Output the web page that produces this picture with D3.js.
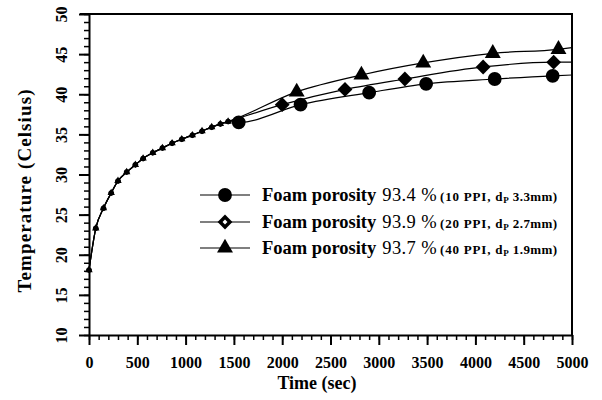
<!DOCTYPE html>
<html>
<head>
<meta charset="utf-8">
<script src="https://cdn.jsdelivr.net/npm/d3@7"></script>
<style>
  body { margin: 0; background: #fff; }
  svg, svg text { font-family: "Liberation Serif", "Times New Roman", "DejaVu Serif", serif; }
</style>
</head>
<body>
<div id="chart"></div>
<script>
// early part, all three foams overlap here
const earlyTime = [0, 70, 150, 230, 300, 390, 480, 560, 660, 760, 860, 960, 1070, 1170, 1270, 1360, 1440]
const earlyTemp = [18.1, 23.3, 25.8, 27.7, 29.2, 30.3, 31.2, 32.0, 32.7, 33.3, 33.9, 34.4, 34.9, 35.4, 35.9, 36.3, 36.6]

// later markers per foam
const circleTime = [1550, 2190, 2900, 3490, 4200, 4800]
const circleTemp = [36.5, 38.7, 40.2, 41.3, 41.9, 42.3]
const diamondTime = [2000, 2650, 3270, 4080, 4810]
const diamondTemp = [38.7, 40.6, 41.9, 43.4, 44.0]
const triangleTime = [2150, 2820, 3460, 4180, 4860]
const triangleTemp = [40.3, 42.4, 43.9, 45.1, 45.6]

// where each fitted line meets the right frame
const lineEndTime = 5000
const lineEndTemp = [42.4, 44.0, 45.8]

const xMajor = [0, 500, 1000, 1500, 2000, 2500, 3000, 3500, 4000, 4500, 5000]
const yMajor = [10, 15, 20, 25, 30, 35, 40, 45, 50]

const legendNames = ["Foam porosity", "Foam porosity", "Foam porosity"]
const legendPct = ["93.4 %", "93.9 %", "93.7 %"]
const legendPpi = ["(10 PPI, d", "(20 PPI, d", "(40 PPI, d"]
const legendDp = ["3.3mm)", "2.7mm)", "1.9mm)"]

const width = 602
const height = 400
const marginLeft = 89
const marginRight = 30
const marginTop = 14
const marginBottom = 65

const x = d3.scaleLinear().domain([0, 5000]).range([marginLeft, width - marginRight])
const y = d3.scaleLinear().domain([10, 50]).range([height - marginBottom, marginTop])

const svg = d3.select("#chart").append("svg")
  .attr("width", width)
  .attr("height", height)

// frame (top and right)
svg.append("path")
  .attr("d", `M${x(0) - 9},${y(50)}H${x(5000)}V${y(10)}`)
  .attr("fill", "none")
  .attr("stroke", "#000")
  .attr("stroke-width", 2)

// x axis
const xMinor = d3.range(0, 5001, 100)
svg.append("g")
  .attr("transform", `translate(0,${y(10)})`)
  .call(d3.axisBottom(x).tickValues(xMinor).tickSize(5).tickFormat(""))
  .call(g => g.select(".domain").remove())
  .call(g => g.selectAll("line").attr("stroke-width", 1.5))
svg.append("g")
  .attr("transform", `translate(0,${y(10)})`)
  .call(d3.axisBottom(x).tickValues(xMajor).tickSize(10).tickSizeOuter(0).tickPadding(12).tickFormat(d3.format("d")))
  .attr("font-family", null)
  .call(g => g.select(".domain").attr("stroke-width", 2))
  .call(g => g.selectAll("line").attr("stroke-width", 2))
  .call(g => g.selectAll("text")
    .attr("font-weight", "bold")
    .attr("font-size", 16)
    .attr("fill", "#000"))

// y axis
const yMinor = d3.range(10, 51, 1)
svg.append("g")
  .attr("transform", `translate(${x(0)},0)`)
  .call(d3.axisLeft(y).tickValues(yMinor).tickSize(5).tickFormat(""))
  .call(g => g.select(".domain").remove())
  .call(g => g.selectAll("line").attr("stroke-width", 1.5))
svg.append("g")
  .attr("transform", `translate(${x(0)},0)`)
  .call(d3.axisLeft(y).tickValues(yMajor).tickSize(10).tickSizeOuter(0))
  .attr("font-family", null)
  .call(g => g.select(".domain").attr("stroke-width", 2))
  .call(g => g.selectAll("line").attr("stroke-width", 2))
  .call(g => g.selectAll("text")
    .attr("x", 0).attr("y", -22).attr("dy", 0)
    .attr("transform", "rotate(-90)")
    .attr("text-anchor", "middle")
    .attr("font-weight", "bold")
    .attr("font-size", 16)
    .attr("fill", "#000"))

// axis titles
svg.append("text")
  .attr("x", 317).attr("y", 389)
  .attr("text-anchor", "middle")
  .attr("font-weight", "bold")
  .attr("font-size", 18)
  .text("Time (sec)")
svg.append("text")
  .attr("transform", "translate(31,191) rotate(-90)")
  .attr("text-anchor", "middle")
  .attr("font-size", 19)
  .attr("font-weight", "bold")
  .attr("textLength", 203)
  .attr("lengthAdjust", "spacing")
  .text("Temperature (Celsius)")

// series: circle, diamond (square turned 45deg), triangle
const symbols = [d3.symbolCircle, d3.symbolSquare, d3.symbolTriangle]
const turn = [0, 45, 0]
const bigSize = [150, 110, 110]
const smallSize = [24, 18, 24]
const series = [
  { time: circleTime, temp: circleTemp },
  { time: diamondTime, temp: diamondTemp },
  { time: triangleTime, temp: triangleTemp }
]

const line = d3.line()
  .x(d => x(d[0]))
  .y(d => y(d[1]))
  .curve(d3.curveMonotoneX)

const early = earlyTime.map((t, i) => [t, earlyTemp[i]])

series.forEach((s, k) => {
  const late = s.time.map((t, i) => [t, s.temp[i]])
  const pts = early.concat(late, [[lineEndTime, lineEndTemp[k]]])
  svg.append("path")
    .datum(pts)
    .attr("d", line)
    .attr("fill", "none")
    .attr("stroke", "#000")
    .attr("stroke-width", 1.2)
})

series.forEach((s, k) => {
  svg.append("g").selectAll("path")
    .data(early)
    .join("path")
    .attr("transform", d => `translate(${x(d[0])},${y(d[1])}) rotate(${turn[k]})`)
    .attr("d", d3.symbol(symbols[k], smallSize[k]))
    .attr("fill", "#000")
  svg.append("g").selectAll("path")
    .data(s.time.map((t, i) => [t, s.temp[i]]))
    .join("path")
    .attr("transform", d => `translate(${x(d[0])},${y(d[1])}) rotate(${turn[k]})`)
    .attr("d", d3.symbol(symbols[k], bigSize[k]))
    .attr("fill", "#000")
})

// legend
const legendY = [195, 222, 248]
legendY.forEach((ly, k) => {
  const g = svg.append("g").attr("transform", `translate(0,${ly})`)
  g.append("line")
    .attr("x1", 200).attr("x2", 250)
    .attr("stroke", "#000").attr("stroke-width", 1.2)
  g.append("path")
    .attr("transform", `translate(225,0) rotate(${turn[k]})`)
    .attr("d", d3.symbol(symbols[k], bigSize[k]))
    .attr("fill", "#000")
  if (k === 1) {
    g.append("path")
      .attr("transform", "translate(225,0) rotate(45)")
      .attr("d", d3.symbol(d3.symbolSquare, 12))
      .attr("fill", "#fff")
  }
  const t = g.append("text").attr("x", 262).attr("y", 6)
  t.append("tspan")
    .attr("font-weight", "bold").attr("font-size", 18.5)
    .text(legendNames[k])
  t.append("tspan")
    .attr("dx", 6).attr("font-size", 18.5)
    .attr("letter-spacing", 0.4)
    .text(legendPct[k])
  t.append("tspan")
    .attr("dx", 3).attr("font-weight", "bold").attr("font-size", 13)
    .attr("letter-spacing", 0.8)
    .text(legendPpi[k])
  t.append("tspan")
    .attr("font-weight", "bold").attr("font-size", 9).attr("dy", 2)
    .text("P")
  t.append("tspan")
    .attr("dx", 4).attr("dy", -2).attr("font-weight", "bold").attr("font-size", 13)
    .attr("letter-spacing", 0.4)
    .text(legendDp[k])
})
</script>
</body>
</html>
